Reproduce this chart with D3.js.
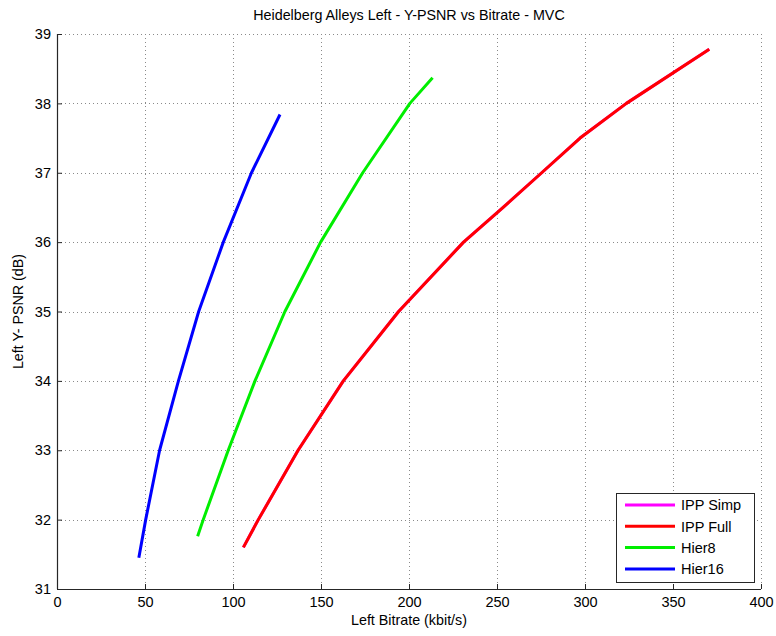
<!DOCTYPE html>
<html>
<head>
<meta charset="utf-8">
<script src="https://cdn.jsdelivr.net/npm/d3@7"></script>
<style>
  html, body { margin: 0; padding: 0; background: #fff; }
  svg { display: block; font-family: "Liberation Sans", Arial, Helvetica, sans-serif; }
</style>
</head>
<body>
<svg id="chart" width="776" height="636"></svg>
<script>
// Rate-distortion results per coding configuration: [bitrate kbit/s, Y-PSNR dB]
const ippSimp = [[105.9,31.6],[114.4,32.0],[137,33.0],[162.7,34.0],[194.1,35.0],[231,36.0],[253.5,36.5],[275.4,37.0],[297.2,37.5],[323.5,38.0],[370.6,38.78]];
const ippFull = [[105.9,31.6],[114.4,32.0],[137,33.0],[162.7,34.0],[194.1,35.0],[231,36.0],[253.5,36.5],[275.4,37.0],[297.2,37.5],[323.5,38.0],[370.6,38.78]];
const hier8   = [[79.9,31.76],[83.1,32.0],[97.3,33.0],[112.5,34.0],[129.5,35.0],[149.8,36.0],[173.7,37.0],[200.5,38.0],[213.4,38.37]];
const hier16  = [[46.5,31.45],[50.4,32.0],[58.3,33.0],[69,34.0],[80.5,35.0],[94.5,36.0],[110.5,37.0],[126.7,37.84]];

const seriesNames  = ["IPP Simp", "IPP Full", "Hier8", "Hier16"];
const seriesColors = ["#ff00ff", "#ff0000", "#00ee00", "#0000ff"];
const seriesData   = [ippSimp, ippFull, hier8, hier16];

const xTicks = [0, 50, 100, 150, 200, 250, 300, 350, 400];
const yTicks = [31, 32, 33, 34, 35, 36, 37, 38, 39];

const titleText = "Heidelberg Alleys Left - Y-PSNR vs Bitrate - MVC";
const xLabel = "Left Bitrate (kbit/s)";
const yLabel = "Left Y- PSNR (dB)";

const margin = { left: 57, right: 15, top: 34, bottom: 47 };
const W = 776, H = 636;
const iw = W - margin.left - margin.right;
const ih = H - margin.top - margin.bottom;

const svg = d3.select("#chart");
const g = svg.append("g").attr("transform", `translate(${margin.left},${margin.top})`);

const x = d3.scaleLinear().domain([0, 400]).range([0, iw]);
const y = d3.scaleLinear().domain([31, 39]).range([ih, 0]);

// dotted grid
const grid = g.append("g").attr("stroke", "#8a8a8a").attr("stroke-width", 1).attr("stroke-dasharray", "1,3");
grid.selectAll(".gx").data(xTicks.filter(d => d > 0)).join("line")
  .attr("x1", d => Math.round(x(d)) + 0.5).attr("x2", d => Math.round(x(d)) + 0.5)
  .attr("y1", 0).attr("y2", ih);
grid.selectAll(".gy").data(yTicks.filter(d => d > 31)).join("line")
  .attr("y1", d => Math.round(y(d)) + 0.5).attr("y2", d => Math.round(y(d)) + 0.5)
  .attr("x1", 0).attr("x2", iw);

// axes with inward ticks
const xAxis = d3.axisBottom(x).tickValues(xTicks).tickSize(-5).tickPadding(8).tickFormat(d3.format("d"));
const yAxis = d3.axisLeft(y).tickValues(yTicks).tickSize(-5).tickPadding(6).tickFormat(d3.format("d"));

const gx = g.append("g").attr("transform", `translate(0,${ih})`).call(xAxis);
const gy = g.append("g").call(yAxis);
[gx, gy].forEach(a => {
  a.select(".domain").attr("stroke", "#262626").attr("stroke-width", 1.2);
  a.selectAll(".tick line").attr("stroke", "#262626");
  a.selectAll(".tick text").attr("fill", "#000").attr("font-size", 14.5)
    .attr("font-family", "'Liberation Sans', Arial, sans-serif");
});
// only the x axis line and y axis line are drawn; no top/right box
gx.select(".domain").attr("d", `M0.5,0.5H${iw}`);
gy.select(".domain").attr("d", `M0.5,${ih}V0`);

// curves, straight segments between measured points
const line = d3.line().x(d => x(d[0])).y(d => y(d[1]));
g.append("g").selectAll("path").data(seriesData).join("path")
  .attr("d", d => line(d))
  .attr("fill", "none")
  .attr("stroke", (d, i) => seriesColors[i])
  .attr("stroke-width", 3)
  .attr("stroke-linejoin", "round");

// title and axis labels
svg.append("text").attr("x", margin.left + iw / 2).attr("y", 20)
  .attr("text-anchor", "middle").attr("font-size", 14.3).attr("fill", "#000").text(titleText);
svg.append("text").attr("x", margin.left + iw / 2).attr("y", 625)
  .attr("text-anchor", "middle").attr("font-size", 14.3).attr("fill", "#000").text(xLabel);
svg.append("text").attr("transform", `translate(23,${margin.top + ih / 2}) rotate(-90)`)
  .attr("text-anchor", "middle").attr("font-size", 14.3).attr("fill", "#000").text(yLabel);

// legend
const lg = svg.append("g").attr("transform", "translate(616,493)");
lg.append("rect").attr("x", 0.5).attr("y", 0.5).attr("width", 138).attr("height", 89)
  .attr("fill", "#fff").attr("stroke", "#262626").attr("stroke-width", 1);
const items = lg.selectAll(".item").data(seriesNames).join("g")
  .attr("transform", (d, i) => `translate(0,${12 + i * 21.3})`);
items.append("line").attr("x1", 9).attr("x2", 59).attr("y1", 0).attr("y2", 0)
  .attr("stroke", (d, i) => seriesColors[i]).attr("stroke-width", 3);
items.append("text").attr("x", 65).attr("y", 0).attr("dy", "0.36em")
  .attr("font-size", 14.5).attr("fill", "#000").text(d => d);
</script>
</body>
</html>
